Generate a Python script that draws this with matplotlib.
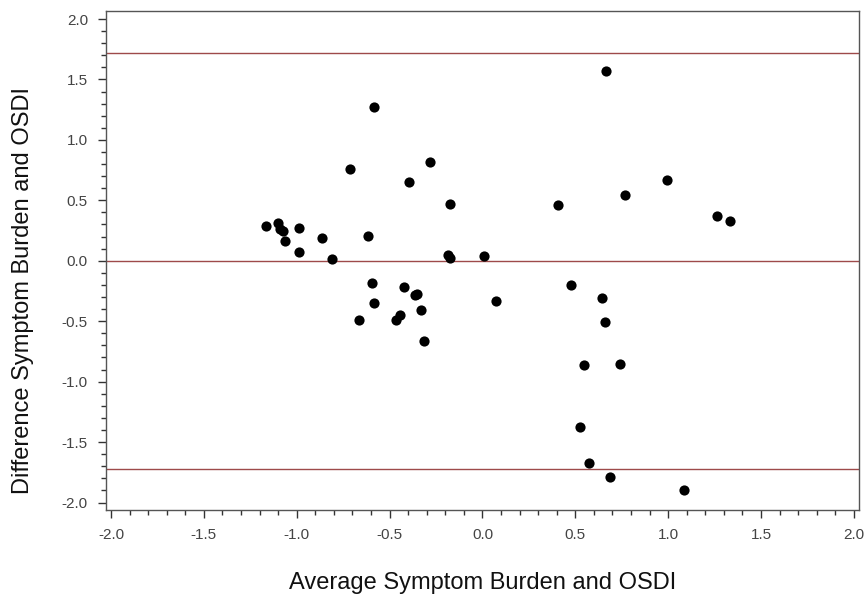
import matplotlib
matplotlib.use("Agg")
import matplotlib.pyplot as plt
from matplotlib.ticker import MultipleLocator
import numpy as np

# Bland-Altman: average vs difference
avg = [-1.167, -1.103, -1.090, -1.072, -1.063, -0.990, -0.987, -0.866, -0.812,
       -0.712, -0.618, -0.586, -0.593, -0.586, -0.665, -0.466, -0.444, -0.421,
       -0.397, -0.363, -0.351, -0.331, -0.313, -0.281, -0.184, -0.175, -0.177,
       0.008, 0.073, 0.408, 0.479, 0.667, 0.645, 0.660, 0.548, 0.742, 0.523,
       0.575, 0.688, 1.085, 0.769, 0.993, 1.264, 1.334]
diff = [0.290, 0.310, 0.265, 0.246, 0.166, 0.272, 0.070, 0.189, 0.015,
        0.759, 0.205, 1.270, -0.185, -0.352, -0.492, -0.490, -0.451, -0.219,
        0.652, -0.283, -0.277, -0.404, -0.663, 0.817, 0.048, 0.026, 0.472,
        0.040, -0.330, 0.462, -0.203, 1.572, -0.310, -0.503, -0.862, -0.851,
        -1.372, -1.672, -1.786, -1.893, 0.541, 0.668, 0.371, 0.332]

mean_diff = 0.0
upper_loa = 1.72
lower_loa = -1.72

plt.rcParams['font.family'] = ['Liberation Sans', 'DejaVu Sans']

fig = plt.figure(figsize=(8.65, 5.96), dpi=100)
ax = fig.add_axes([0.1225, 0.1443, 0.8705, 0.8372])

line_col = '#9e4a4a'
for yv in [upper_loa, mean_diff, lower_loa]:
    ax.axhline(yv, color=line_col, lw=1.0, zorder=1)

ax.scatter(avg, diff, s=54, color='black', zorder=3, linewidths=0)

ax.set_xlim(-2.027, 2.027)
ax.set_ylim(-2.062, 2.066)
ax.xaxis.set_major_locator(MultipleLocator(0.5))
ax.xaxis.set_minor_locator(MultipleLocator(0.1))
ax.yaxis.set_major_locator(MultipleLocator(0.5))
ax.yaxis.set_minor_locator(MultipleLocator(0.1))
ax.xaxis.set_major_formatter(plt.FuncFormatter(lambda v, p: f"{v:.1f}"))
ax.yaxis.set_major_formatter(plt.FuncFormatter(lambda v, p: f"{v:.1f}"))

for s in ax.spines.values():
    s.set_color('#555555')
    s.set_linewidth(1.0)

ax.tick_params(which='major', direction='out', length=6, width=1, color='#333333',
               labelsize=11, labelcolor='#444444', pad=7)
ax.tick_params(which='minor', direction='out', length=3.5, width=1, color='#333333')

ax.set_xlabel("Average Symptom Burden and OSDI", fontsize=17, color='#111111')
ax.set_ylabel("Difference Symptom Burden and OSDI", fontsize=17, color='#111111')
ax.xaxis.set_label_coords(0.5, -0.124)
ax.yaxis.set_label_coords(-0.095, 0.44)

fig.savefig("out.png", dpi=100)
